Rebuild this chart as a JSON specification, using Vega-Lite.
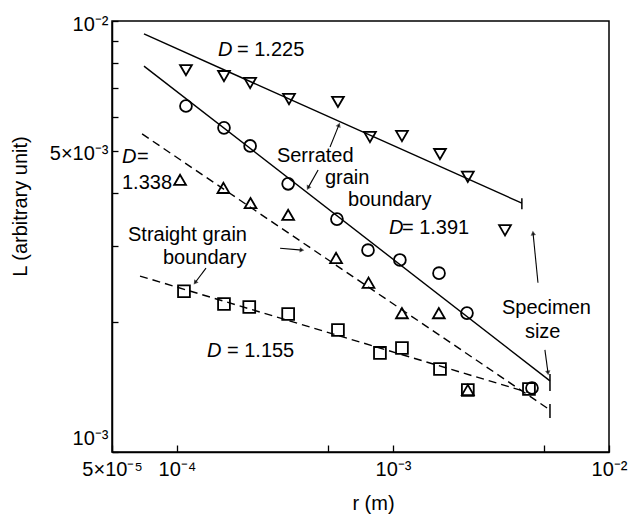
{
  "$schema": "https://vega.github.io/schema/vega-lite/v6.json",
  "width": 497,
  "height": 431,
  "autosize": {"type": "none"},
  "padding": {"left": 112, "top": 21, "right": 27, "bottom": 68},
  "background": "white",
  "config": {
    "font": "Liberation Sans",
    "view": {"stroke": "black", "strokeWidth": 1.5},
    "axis": {"domainColor": "black", "domainWidth": 1.5, "tickColor": "black", "tickWidth": 1.3, "labelColor": "black", "titleColor": "black", "grid": false, "labelFontSize": 20, "titleFontSize": 20, "titleFontWeight": "normal", "labelFont": "Liberation Sans", "titleFont": "Liberation Sans"}
  },
  "datasets": {
    "points": [
      {"series": "tri_down", "r": 1.10e-4, "L": 7.69e-3},
      {"series": "tri_down", "r": 1.65e-4, "L": 7.45e-3},
      {"series": "tri_down", "r": 2.18e-4, "L": 7.18e-3},
      {"series": "tri_down", "r": 3.30e-4, "L": 6.59e-3},
      {"series": "tri_down", "r": 5.56e-4, "L": 6.49e-3},
      {"series": "tri_down", "r": 7.82e-4, "L": 5.38e-3},
      {"series": "tri_down", "r": 1.10e-3, "L": 5.41e-3},
      {"series": "tri_down", "r": 1.65e-3, "L": 4.91e-3},
      {"series": "tri_down", "r": 2.22e-3, "L": 4.35e-3},
      {"series": "tri_down", "r": 3.30e-3, "L": 3.27e-3},
      {"series": "circle", "r": 1.10e-4, "L": 6.35e-3},
      {"series": "circle", "r": 1.65e-4, "L": 5.65e-3},
      {"series": "circle", "r": 2.18e-4, "L": 5.13e-3},
      {"series": "circle", "r": 3.27e-4, "L": 4.19e-3},
      {"series": "circle", "r": 5.50e-4, "L": 3.47e-3},
      {"series": "circle", "r": 7.66e-4, "L": 2.94e-3},
      {"series": "circle", "r": 1.076e-3, "L": 2.79e-3},
      {"series": "circle", "r": 1.633e-3, "L": 2.60e-3},
      {"series": "circle", "r": 2.20e-3, "L": 2.10e-3},
      {"series": "circle", "r": 4.40e-3, "L": 1.408e-3},
      {"series": "tri_up", "r": 1.033e-4, "L": 4.28e-3},
      {"series": "tri_up", "r": 1.64e-4, "L": 4.10e-3},
      {"series": "tri_up", "r": 2.19e-4, "L": 3.78e-3},
      {"series": "tri_up", "r": 3.27e-4, "L": 3.55e-3},
      {"series": "tri_up", "r": 5.45e-4, "L": 2.82e-3},
      {"series": "tri_up", "r": 7.70e-4, "L": 2.47e-3},
      {"series": "tri_up", "r": 1.10e-3, "L": 2.10e-3},
      {"series": "tri_up", "r": 1.63e-3, "L": 2.10e-3},
      {"series": "tri_up", "r": 2.22e-3, "L": 1.393e-3},
      {"series": "square", "r": 1.077e-4, "L": 2.36e-3},
      {"series": "square", "r": 1.65e-4, "L": 2.205e-3},
      {"series": "square", "r": 2.16e-4, "L": 2.17e-3},
      {"series": "square", "r": 3.27e-4, "L": 2.09e-3},
      {"series": "square", "r": 5.56e-4, "L": 1.919e-3},
      {"series": "square", "r": 8.70e-4, "L": 1.698e-3},
      {"series": "square", "r": 1.10e-3, "L": 1.743e-3},
      {"series": "square", "r": 1.65e-3, "L": 1.558e-3},
      {"series": "square", "r": 2.22e-3, "L": 1.393e-3},
      {"series": "square", "r": 4.26e-3, "L": 1.40e-3}
    ],
    "solidFits": [
      {"fit": "A", "r": 7.03e-5, "L": 9.33e-3},
      {"fit": "A", "r": 3.95e-3, "L": 3.78e-3},
      {"fit": "B", "r": 7.03e-5, "L": 7.86e-3},
      {"fit": "B", "r": 5.33e-3, "L": 1.462e-3}
    ],
    "dashedFits": [
      {"fit": "C", "r": 6.89e-5, "L": 5.47e-3},
      {"fit": "C", "r": 5.33e-3, "L": 1.252e-3},
      {"fit": "D", "r": 6.74e-5, "L": 2.56e-3},
      {"fit": "D", "r": 4.17e-3, "L": 1.377e-3}
    ],
    "endTicks": [
      {"r": 3.95e-3, "L": 3.88e-3, "L2": 3.66e-3},
      {"r": 5.33e-3, "L": 1.517e-3, "L2": 1.385e-3},
      {"r": 5.33e-3, "L": 1.292e-3, "L2": 1.199e-3}
    ],
    "arrows": [
      {"id": 1, "o": 0, "r": 5.11e-4, "L": 5.10e-3},
      {"id": 1, "o": 1, "r": 5.62e-4, "L": 5.74e-3},
      {"id": 2, "o": 0, "r": 4.50e-4, "L": 4.51e-3},
      {"id": 2, "o": 1, "r": 4.04e-4, "L": 4.10e-3},
      {"id": 3, "o": 0, "r": 1.362e-4, "L": 2.67e-3},
      {"id": 3, "o": 1, "r": 1.212e-4, "L": 2.47e-3},
      {"id": 4, "o": 0, "r": 3.00e-4, "L": 2.97e-3},
      {"id": 4, "o": 1, "r": 3.79e-4, "L": 2.94e-3},
      {"id": 5, "o": 0, "r": 4.69e-3, "L": 2.47e-3},
      {"id": 5, "o": 1, "r": 4.45e-3, "L": 3.22e-3},
      {"id": 6, "o": 0, "r": 5.05e-3, "L": 1.725e-3},
      {"id": 6, "o": 1, "r": 5.22e-3, "L": 1.526e-3}
    ],
    "heads": [
      {"r": 5.62e-4, "L": 5.74e-3, "angle": 22},
      {"r": 4.04e-4, "L": 4.10e-3, "angle": 209},
      {"r": 1.212e-4, "L": 2.47e-3, "angle": 216},
      {"r": 3.79e-4, "L": 2.94e-3, "angle": 95},
      {"r": 4.45e-3, "L": 3.22e-3, "angle": 354},
      {"r": 5.22e-3, "L": 1.526e-3, "angle": 173}
    ],
    "italicText": [
      {"r": 1.549e-4, "L": 8.57e-3, "t": "D"},
      {"r": 5.56e-5, "L": 4.83e-3, "t": "D"},
      {"r": 9.58e-4, "L": 3.31e-3, "t": "D"},
      {"r": 1.377e-4, "L": 1.716e-3, "t": "D"}
    ],
    "plainText": [
      {"r": 1.895e-4, "L": 8.57e-3, "t": "= 1.225"},
      {"r": 6.53e-5, "L": 4.83e-3, "t": "="},
      {"r": 5.56e-5, "L": 4.21e-3, "t": "1.338"},
      {"r": 1.10e-3, "L": 3.31e-3, "t": "= 1.391"},
      {"r": 1.703e-4, "L": 1.716e-3, "t": "= 1.155"},
      {"r": 2.90e-4, "L": 4.86e-3, "t": "Serrated"},
      {"r": 4.84e-4, "L": 4.32e-3, "t": "grain"},
      {"r": 6.19e-4, "L": 3.84e-3, "t": "boundary"},
      {"r": 5.93e-5, "L": 3.19e-3, "t": "Straight grain"},
      {"r": 8.61e-5, "L": 2.82e-3, "t": "boundary"},
      {"r": 3.196e-3, "L": 2.16e-3, "t": "Specimen"},
      {"r": 4.08e-3, "L": 1.897e-3, "t": "size"}
    ]
  },
  "encoding": {
    "x": {
      "field": "r", "type": "quantitative",
      "scale": {"type": "log", "domain": [5e-5, 0.01], "nice": false, "zero": false},
      "axis": {
        "title": "r (m)",
        "values": [5e-5, 1e-4, 5e-4, 1e-3, 5e-3, 1e-2],
        "labelExpr": "datum.value < 7e-5 ? '5×10⁻⁵' : datum.value < 2e-4 ? '10⁻⁴' : datum.value < 7e-4 ? '' : datum.value < 2e-3 ? '10⁻³' : datum.value < 7e-3 ? '' : '10⁻²'",
        "tickSize": -7,
        "labelPadding": 14,
        "labelOverlap": false,
        "labelFlush": false,
        "titleX": 261,
        "titleY": 51,
        "titleBaseline": "middle"
      }
    },
    "y": {
      "field": "L", "type": "quantitative",
      "scale": {"type": "log", "domain": [0.001, 0.01], "nice": false, "zero": false},
      "axis": {
        "title": "L (arbitrary unit)",
        "values": [0.001, 0.002, 0.003, 0.004, 0.005, 0.006, 0.007, 0.008, 0.009, 0.01],
        "labelExpr": "datum.value > 0.0095 ? '10⁻²' : (datum.value > 0.0045 && datum.value < 0.0055) ? '5×10⁻³' : datum.value < 0.0011 ? '10⁻³' : ''",
        "labelOffset": {"condition": {"test": "datum.value < 0.0011", "value": -14}, "value": 3},
        "tickSize": -6,
        "labelPadding": 10,
        "labelOverlap": false,
        "labelFlush": false,
        "titleX": -92,
        "titleY": 185,
        "titleAngle": -90,
        "titleAlign": "center",
        "titleBaseline": "middle"
      }
    }
  },
  "layer": [
    {
      "data": {"name": "solidFits"},
      "mark": {"type": "line", "color": "black", "strokeWidth": 1.4},
      "encoding": {"detail": {"field": "fit"}}
    },
    {
      "data": {"name": "dashedFits"},
      "mark": {"type": "line", "color": "black", "strokeWidth": 1.4, "strokeDash": [8, 5]},
      "encoding": {"detail": {"field": "fit"}}
    },
    {
      "data": {"name": "endTicks"},
      "mark": {"type": "rule", "color": "black", "strokeWidth": 1.5},
      "encoding": {"y2": {"field": "L2"}}
    },
    {
      "data": {"name": "arrows"},
      "mark": {"type": "line", "color": "black", "strokeWidth": 1.1},
      "encoding": {"detail": {"field": "id"}, "order": {"field": "o"}}
    },
    {
      "data": {"name": "heads"},
      "mark": {"type": "point", "shape": "triangle-up", "filled": true, "color": "black", "size": 28},
      "encoding": {"angle": {"field": "angle", "type": "quantitative", "scale": null}}
    },
    {
      "data": {"name": "points"},
      "mark": {"type": "point", "filled": false, "color": "black", "strokeWidth": 1.8, "size": 140, "opacity": 1},
      "encoding": {
        "shape": {
          "field": "series", "type": "nominal",
          "scale": {"domain": ["tri_down", "circle", "tri_up", "square"], "range": ["triangle-down", "circle", "triangle-up", "square"]},
          "legend": null
        }
      }
    },
    {
      "data": {"name": "italicText"},
      "mark": {"type": "text", "align": "left", "baseline": "middle", "fontSize": 20, "fontStyle": "italic", "font": "Liberation Sans", "color": "black"},
      "encoding": {"text": {"field": "t"}}
    },
    {
      "data": {"name": "plainText"},
      "mark": {"type": "text", "align": "left", "baseline": "middle", "fontSize": 20, "font": "Liberation Sans", "color": "black"},
      "encoding": {"text": {"field": "t"}}
    }
  ]
}
